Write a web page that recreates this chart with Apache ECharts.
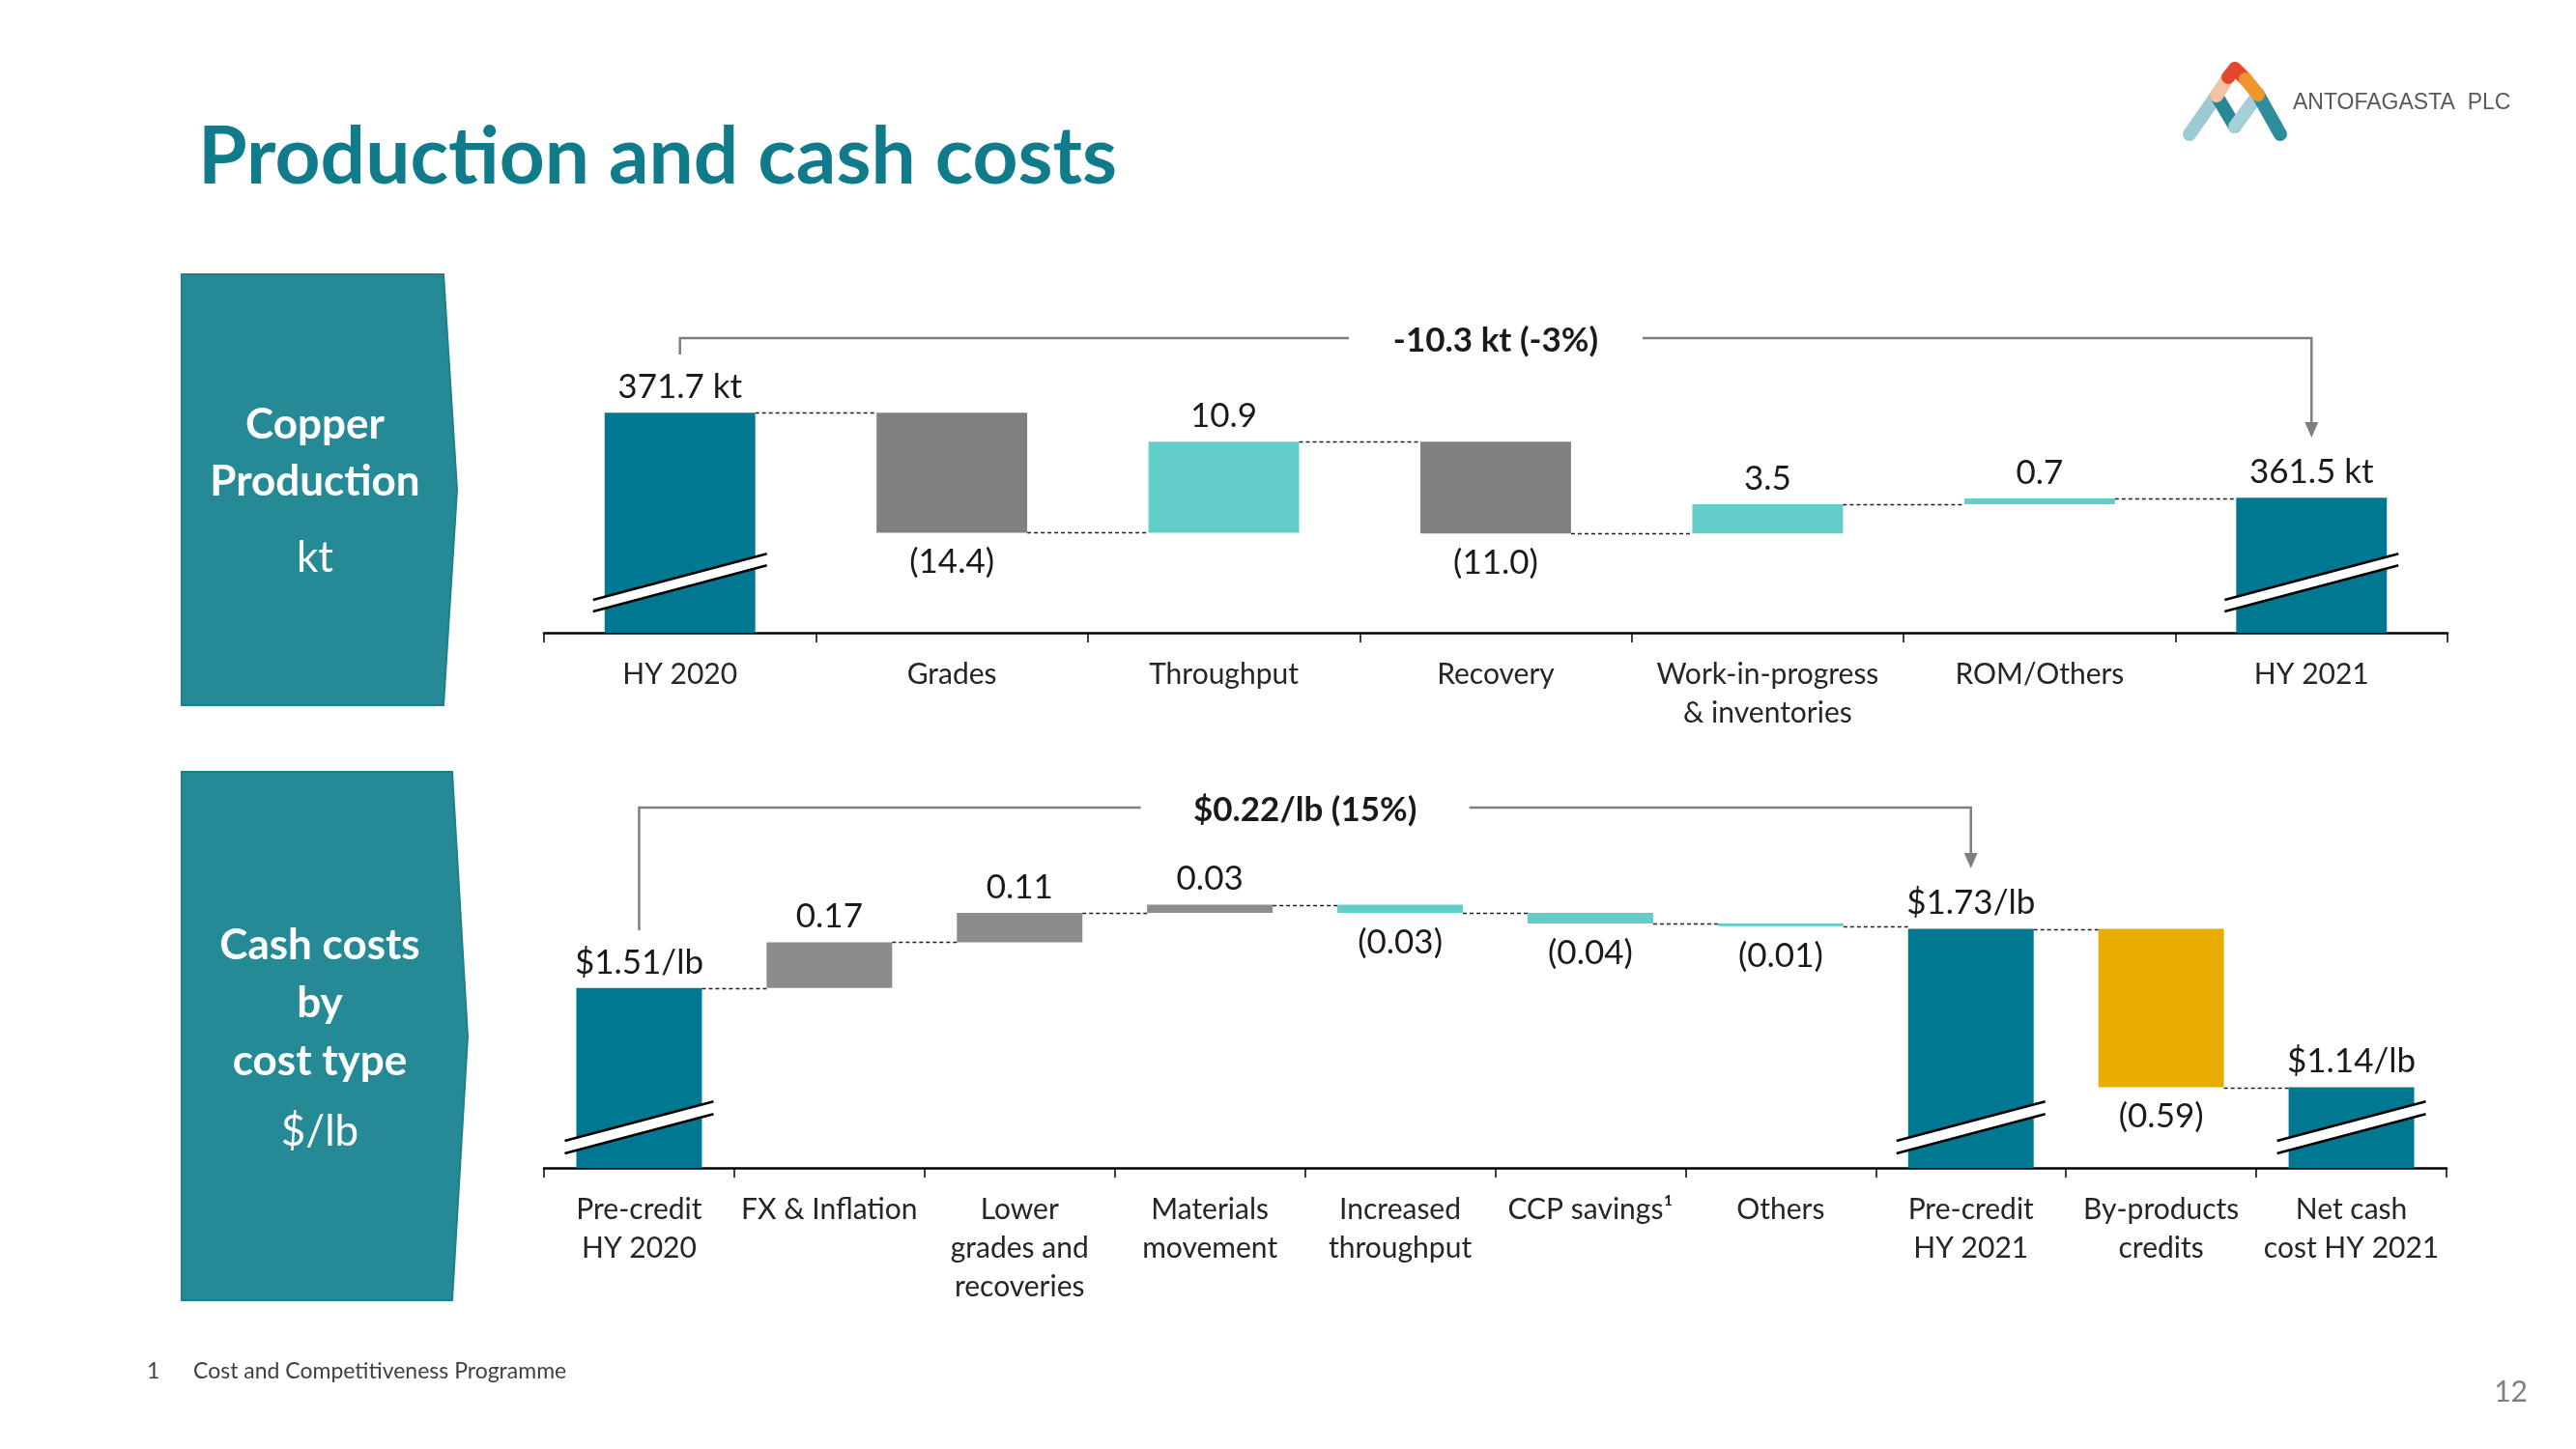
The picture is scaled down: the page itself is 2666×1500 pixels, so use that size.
<!DOCTYPE html>
<html><head><meta charset="utf-8">
<script src="https://cdn.jsdelivr.net/npm/echarts@6/dist/echarts.min.js"></script>
<style>html,body{margin:0;padding:0;background:#fff}#c{width:2666px;height:1500px}</style>
</head><body><div id="c"></div>
<script>
// ---------- DATA ----------
const prodCategories = ['HY 2020', 'Grades', 'Throughput', 'Recovery', 'Work-in-progress\n& inventories', 'ROM/Others', 'HY 2021'];
const prodValues = [371.7, -14.4, 10.9, -11.0, 3.5, 0.7, 361.5];
const prodIsTotal = [true, false, false, false, false, false, true];
const prodKinds = ['total', 'down', 'up', 'down', 'up', 'up', 'total'];
const prodLabels = ['371.7 kt', '(14.4)', '10.9', '(11.0)', '3.5', '0.7', '361.5 kt'];
const prodChangeText = '-10.3 kt (-3%)';

const costCategories = ['Pre-credit\nHY 2020', 'FX & Inflation', 'Lower\ngrades and\nrecoveries', 'Materials\nmovement', 'Increased\nthroughput', 'CCP savings\u00B9', 'Others', 'Pre-credit\nHY 2021', 'By-products\ncredits', 'Net cash\ncost HY 2021'];
const costValues = [1.51, 0.17, 0.11, 0.03, -0.03, -0.04, -0.01, 1.73, -0.59, 1.14];
const costIsTotal = [true, false, false, false, false, false, false, true, false, true];
const costKinds = ['total', 'up', 'up', 'up', 'down', 'down', 'down', 'total', 'credit', 'total'];
const costLabels = ['$1.51/lb', '0.17', '0.11', '0.03', '(0.03)', '(0.04)', '(0.01)', '$1.73/lb', '(0.59)', '$1.14/lb'];
const costChangeText = '$0.22/lb (15%)';

// ---------- LAYOUT / STYLE ----------
const FONT = 'Lato';
const PROD_MIN = 345.3, PROD_MAX = 380;
const COST_MIN = 0.84, COST_MAX = 2.0;
const PROD_RATIO = 0.554, COST_RATIO = 0.66;
const prodColors = { total: '#007891', down: '#808080', up: '#63cdc9' };
const costColors = { total: '#007891', up: '#8c8c8c', down: '#63cdc9', credit: '#eaab00' };

function build(values, isTotal) {
  const base = [], size = [], end = [];
  let run = 0;
  for (let i = 0; i < values.length; i++) {
    const v = values[i];
    if (isTotal[i]) { base.push(0); size.push(v); run = v; }
    else { const nx = run + v; base.push(Math.min(run, nx)); size.push(Math.abs(v)); run = nx; }
    end.push(run);
  }
  return { base, size, end };
}
const prodWF = build(prodValues, prodIsTotal);
const costWF = build(costValues, costIsTotal);

function seriesFor(g, wf, values, kinds, labels, colors, ratio, isTotal, minV, brk) {
  const bw = (ratio * 100) + '%';
  const totals = [];
  isTotal.forEach((t, i) => { if (t) totals.push([i, minV]); });
  return [
    { type: 'bar', xAxisIndex: g, yAxisIndex: g, stack: 'wf' + g, barWidth: bw, silent: true,
      itemStyle: { color: 'rgba(0,0,0,0)' }, data: wf.base },
    { type: 'bar', xAxisIndex: g, yAxisIndex: g, stack: 'wf' + g, barWidth: bw,
      label: { show: true, fontFamily: FONT, fontSize: 35, color: '#1a1a1a' },
      data: wf.size.map((s, i) => ({
        value: s,
        itemStyle: { color: colors[kinds[i]] },
        label: { position: values[i] < 0 ? 'bottom' : 'top', distance: values[i] < 0 ? 13 : 9, formatter: labels[i] }
      })) },
    { type: 'custom', xAxisIndex: g, yAxisIndex: g, silent: true, z: 3,
      encode: { x: 0, y: 1 },
      data: wf.end.slice(0, -1).map((e, i) => [i, e]),
      renderItem: (p, api) => {
        const i = api.value(0), lv = api.value(1);
        const a = api.coord([i, lv]), b = api.coord([i + 1, lv]);
        const w = api.size([1, 0])[0] * ratio;
        const y = Math.round(a[1]) + 0.5;
        return { type: 'line', shape: { x1: a[0] + w / 2, y1: y, x2: b[0] - w / 2, y2: y },
          style: { stroke: '#222', lineWidth: 1.3, lineDash: [4, 3] } };
      } },
    { type: 'custom', xAxisIndex: g, yAxisIndex: g, silent: true, z: 4,
      encode: { x: 0, y: 1 },
      data: totals,
      renderItem: (p, api) => {
        const c = api.coord([api.value(0), api.value(1)]);
        const w = api.size([1, 0])[0] * ratio + 24;
        const x1 = c[0] - w / 2, x2 = c[0] + w / 2, rise = w * 0.265;
        const l1 = c[1] - brk.low, l2 = l1 - rise, u1 = l1 - brk.band, u2 = l2 - brk.band;
        return { type: 'group', children: [
          { type: 'polygon', shape: { points: [[x1, l1], [x2, l2], [x2, u2], [x1, u1]] }, style: { fill: '#fff' } },
          { type: 'line', shape: { x1: x1, y1: l1, x2: x2, y2: l2 }, style: { stroke: '#000', lineWidth: 2.5 } },
          { type: 'line', shape: { x1: x1, y1: u1, x2: x2, y2: u2 }, style: { stroke: '#000', lineWidth: 2.5 } }
        ] };
      } }
  ];
}

function xAxisFor(g, cats) {
  return { type: 'category', gridIndex: g, data: cats,
    axisLine: { show: true, lineStyle: { color: '#000', width: 2.5 } },
    axisTick: { show: true, inside: false, length: 10, lineStyle: { color: '#000', width: 1.5 } },
    axisLabel: { interval: 0, margin: 23, fontFamily: FONT, fontSize: 30, lineHeight: 40, color: '#262626' },
    splitLine: { show: false } };
}
function yAxisFor(g, mn, mx) {
  return { type: 'value', gridIndex: g, min: mn, max: mx, show: false, splitLine: { show: false } };
}

// ---------- STATIC GRAPHICS ----------
const staticGraphics = [
  { type: 'text', style: { text: 'Production and cash costs', x: 205, y: 164, font: 'bold 82px Lato', fill: '#0f7b8b', textVerticalAlign: 'middle' } },
  // left boxes
  { type: 'polygon', shape: { points: [[188, 284], [459, 284], [473, 507], [459, 730], [188, 730]] }, style: { fill: '#268a96', stroke: '#1e7f8b', lineWidth: 2 } },
  { type: 'polygon', shape: { points: [[188, 799], [468, 799], [484, 1073], [468, 1346], [188, 1346]] }, style: { fill: '#268a96', stroke: '#1e7f8b', lineWidth: 2 } },
  { type: 'text', style: { text: 'Copper', x: 326, y: 440, font: 'bold 44px Lato', fill: '#fff', textAlign: 'center', textVerticalAlign: 'middle' } },
  { type: 'text', style: { text: 'Production', x: 326, y: 499, font: 'bold 44px Lato', fill: '#fff', textAlign: 'center', textVerticalAlign: 'middle' } },
  { type: 'text', style: { text: 'kt', x: 326, y: 578, font: '44px Lato', fill: '#fff', textAlign: 'center', textVerticalAlign: 'middle' } },
  { type: 'text', style: { text: 'Cash costs', x: 331, y: 979, font: 'bold 44px Lato', fill: '#fff', textAlign: 'center', textVerticalAlign: 'middle' } },
  { type: 'text', style: { text: 'by', x: 331, y: 1039, font: 'bold 44px Lato', fill: '#fff', textAlign: 'center', textVerticalAlign: 'middle' } },
  { type: 'text', style: { text: 'cost type', x: 331, y: 1099, font: 'bold 44px Lato', fill: '#fff', textAlign: 'center', textVerticalAlign: 'middle' } },
  { type: 'text', style: { text: '$/lb', x: 331, y: 1172, font: '44px Lato', fill: '#fff', textAlign: 'center', textVerticalAlign: 'middle' } },
  // logo mark
  { type: 'polyline', shape: { points: [[2266, 139], [2294, 99]] }, style: { stroke: '#9ccad3', lineWidth: 14, lineCap: 'round', fill: null } },
  { type: 'polyline', shape: { points: [[2294, 99], [2313, 131]] }, style: { stroke: '#2a8797', lineWidth: 14, lineCap: 'round', fill: null } },
  { type: 'polyline', shape: { points: [[2313, 131], [2337, 98]] }, style: { stroke: '#a7cfd7', lineWidth: 14, lineCap: 'round', fill: null } },
  { type: 'polyline', shape: { points: [[2337, 98], [2360, 139]] }, style: { stroke: '#2e8d9d', lineWidth: 14, lineCap: 'round', fill: null } },
  { type: 'polyline', shape: { points: [[2294, 99], [2306, 80]] }, style: { stroke: '#f3c4a4', lineWidth: 14, lineCap: 'round', fill: null } },
  { type: 'polyline', shape: { points: [[2306, 80], [2313, 71], [2324, 82]] }, style: { stroke: '#e4472c', lineWidth: 14, lineCap: 'round', lineJoin: 'round', fill: null } },
  { type: 'polyline', shape: { points: [[2324, 82], [2337, 98]] }, style: { stroke: '#f0952b', lineWidth: 14, lineCap: 'round', fill: null } },
  { type: 'text', style: { text: 'ANTOFAGASTA  PLC', x: 2373, y: 107, font: '23px "Liberation Sans"', fill: '#595959', textVerticalAlign: 'middle' } },
  // footnote and page number
  { type: 'text', style: { text: '1', x: 152, y: 1420, font: '23px Lato', fill: '#404040', textVerticalAlign: 'middle' } },
  { type: 'text', style: { text: 'Cost and Competitiveness Programme', x: 200, y: 1420, font: '23px Lato', fill: '#404040', textVerticalAlign: 'middle' } },
  { type: 'text', style: { text: '12', x: 2616, y: 1441, font: '30px Lato', fill: '#7f7f7f', textAlign: 'right', textVerticalAlign: 'middle' } }
];

const chart = echarts.init(document.getElementById('c'), null, { renderer: 'canvas', width: 2666, height: 1500 });
chart.setOption({
  animation: false,
  backgroundColor: '#ffffff',
  grid: [
    { left: 563, right: 133, top: 355.5, bottom: 845, outerBoundsMode: 'none', containLabel: false },
    { left: 563, right: 134, top: 886.5, bottom: 291, outerBoundsMode: 'none', containLabel: false }
  ],
  xAxis: [xAxisFor(0, prodCategories), xAxisFor(1, costCategories)],
  yAxis: [yAxisFor(0, PROD_MIN, PROD_MAX), yAxisFor(1, COST_MIN, COST_MAX)],
  series: [].concat(
    seriesFor(0, prodWF, prodValues, prodKinds, prodLabels, prodColors, PROD_RATIO, prodIsTotal, PROD_MIN, { low: 22, band: 12 }),
    seriesFor(1, costWF, costValues, costKinds, costLabels, costColors, COST_RATIO, costIsTotal, COST_MIN, { low: 15, band: 13 })
  ),
  graphic: staticGraphics
});

// ---------- CHANGE BRACKETS (x from the axes) ----------
function bracket(g, fromIdx, toIdx, minV, yStart, yLine, yTip, gap, text) {
  const xa = chart.convertToPixel({ gridIndex: g }, [fromIdx, minV])[0];
  const xb = chart.convertToPixel({ gridIndex: g }, [toIdx, minV])[0];
  const mid = (xa + xb) / 2;
  const st = { stroke: '#7f7f7f', lineWidth: 2.5, fill: null };
  return [
    { type: 'polyline', shape: { points: [[xa, yStart], [xa, yLine], [mid - gap, yLine]] }, style: st },
    { type: 'polyline', shape: { points: [[mid + gap, yLine], [xb, yLine], [xb, yTip - 15]] }, style: st },
    { type: 'polygon', shape: { points: [[xb - 7, yTip - 16], [xb + 7, yTip - 16], [xb, yTip]] }, style: { fill: '#7f7f7f' } },
    { type: 'text', style: { text: text, x: mid, y: yLine + 3, font: 'bold 35px Lato', fill: '#1a1a1a', textAlign: 'center', textVerticalAlign: 'middle' } }
  ];
}
const brackets = [].concat(
  bracket(0, 0, 6, PROD_MIN, 367, 350, 453, 152, prodChangeText),
  bracket(1, 0, 7, COST_MIN, 963, 836, 899, 170, costChangeText)
);
chart.setOption({ graphic: staticGraphics.concat(brackets) });
</script>
</body></html>
